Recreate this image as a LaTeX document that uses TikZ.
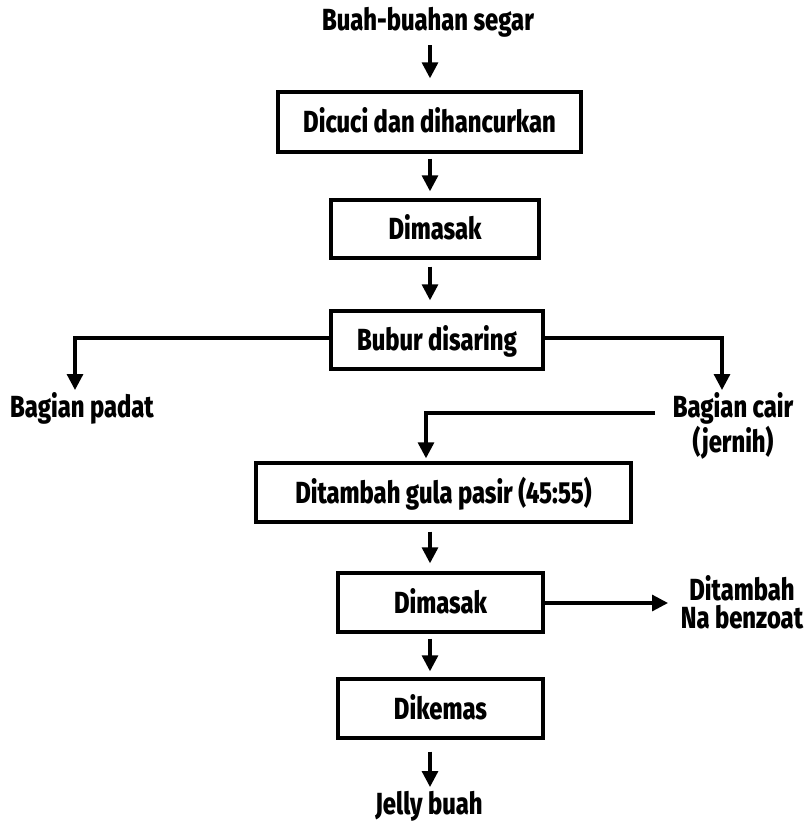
\documentclass[tikz,border=0pt]{standalone}
\usepackage{fontspec}
\setmainfont{Fira Sans}[FakeStretch=0.78,BoldFont={Fira Sans ExtraBold}]
\usetikzlibrary{arrows.meta,calc}
\begin{document}
\begin{tikzpicture}[x=1pt,y=-1pt,
  font=\fontsize{30.5}{28}\selectfont\bfseries,
  box/.style={draw,line width=3.4pt,rectangle,inner sep=0pt,text height=21pt,text depth=0pt},
  lbl/.style={inner sep=0pt,align=center},
  arr/.style={line width=3.2pt,-{Triangle[length=16pt,width=16pt]}},
  ln/.style={line width=3.2pt}]
\useasboundingbox (0,0) rectangle (807,822);
\coordinate (cx) at (430,0);
\node[lbl,anchor=base] (top) at (428,30) {Buah-buahan segar};
\node[box,minimum width=303pt,minimum height=60pt] (b1) at (429.5,122) {Dicuci dan dihancurkan};
\node[box,minimum width=208pt,minimum height=58pt] (b2) at (435,229) {Dimasak};
\node[box,minimum width=212pt,minimum height=58pt] (b3) at (437,340) {Bubur disaring};
\node[lbl,anchor=base] (padat) at (82,417) {Bagian padat};
\node[lbl,anchor=base,align=center] (cair) at (733,452) {Bagian cair\\(jernih)};
\node[box,minimum width=375pt,minimum height=59pt] (b4) at (443.5,492.5) {Ditambah gula pasir (45:55)};
\node[box,minimum width=205pt,minimum height=59pt] (b5) at (440.5,602.5) {Dimasak};
\node[lbl,anchor=base,align=center] (na) at (742,628) {Ditambah\\Na benzoat};
\node[box,minimum width=205pt,minimum height=59pt] (b6) at (440.5,708.5) {Dikemas};
\node[lbl,anchor=base] (jelly) at (429,814) {Jelly buah};
% main arrows
\draw[arr] ($(top.base -| cx)+(0,15)$) -- ($(b1.north -| cx)+(0,-12)$);
\draw[arr] ($(b1.south -| cx)+(0,5)$) -- ($(b2.north -| cx)+(0,-7)$);
\draw[arr] ($(b2.south -| cx)+(0,7)$) -- ($(b3.north -| cx)+(0,-9)$);
\draw[arr] ($(b4.south -| cx)+(0,8)$) -- ($(b5.north -| cx)+(0,-8)$);
\draw[arr] ($(b5.south -| cx)+(0,5)$) -- ($(b6.north -| cx)+(0,-6)$);
\draw[arr] ($(b6.south -| cx)+(0,12)$) -- ($(jelly.base -| cx)+(0,-27)$);
% branches
\coordinate (lx) at (75,390);
\coordinate (rx) at (722,390);
\draw[arr] ($(b3.west)+(0,-2)$) -| (lx);
\draw[arr] ($(b3.east)+(0,-2)$) -| (rx);
\coordinate (cs) at (655,413);
\coordinate (c4) at (426,0);
\draw[arr] (cs) -| ($(b4.north -| c4)+(0,-3)$);
\coordinate (nt) at (668,603);
\draw[arr] (b5.east |- nt) -- (nt);
\end{tikzpicture}
\end{document}
